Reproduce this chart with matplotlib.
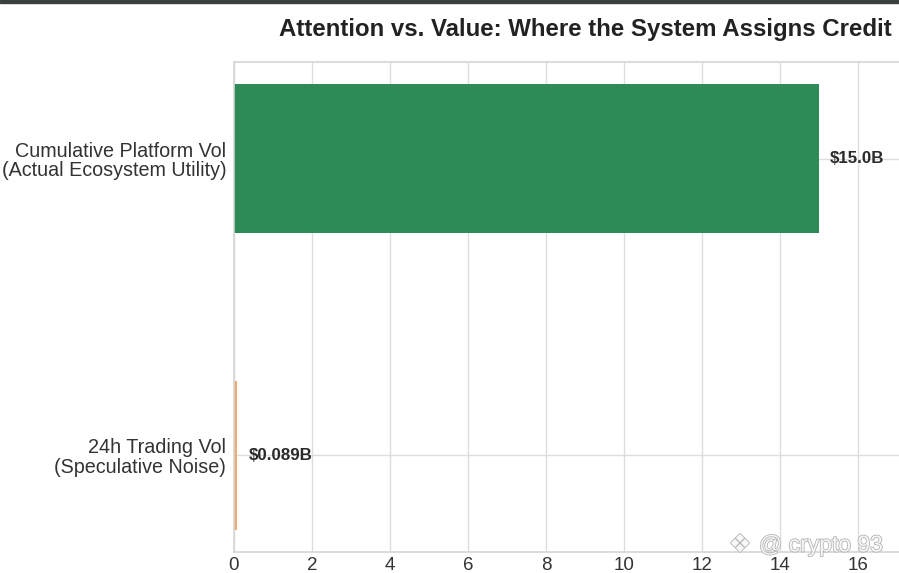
import matplotlib
matplotlib.use("Agg")
import matplotlib.pyplot as plt
import matplotlib.patheffects as pe
from matplotlib.patches import Rectangle

categories = ["24h Trading Vol\n(Speculative Noise)",
              "Cumulative Platform Vol\n(Actual Ecosystem Utility)"]
values = [0.089, 15.0]
value_labels = ["$0.089B", "$15.0B"]
colors = ["#f4a96e", "#2e8b57"]
title = "Attention vs. Value: Where the System Assigns Credit"

plt.rcParams['font.family'] = ['Liberation Sans', 'DejaVu Sans']

fig = plt.figure(figsize=(8.99, 5.73), dpi=100)
ax = fig.add_axes([234/899, 21/573, 702/899, 490/573])

ax.barh(range(len(values)), values, height=0.5, color=colors, zorder=2)
ax.set_yticks(range(len(values)))
ax.set_yticklabels(categories, fontsize=14.2, color="#333333", linespacing=1.02)
ax.set_xlim(0, 18)
ax.set_xticks(range(0, 18, 2))
ax.tick_params(axis='x', labelsize=13.5, colors="#333333", length=0, pad=3.5)
ax.tick_params(axis='y', length=0, pad=5.5)
ax.grid(True, color="#dddddd", linewidth=1, zorder=0)
ax.set_axisbelow(True)
for s in ax.spines.values():
    s.set_color("#d5d5d5")
    s.set_linewidth(1.2)

for i, (v, lab) in enumerate(zip(values, value_labels)):
    ax.text(v + 0.28, i, lab, va='center', ha='left', fontsize=12.2,
            fontweight='bold', color="#2a2a2a", zorder=3)

ax.set_title(title, fontsize=17.3, fontweight='bold', color="#222222", pad=19)

# dark strip at the top edge
fig.patches.append(Rectangle((0, 1 - 3/573), 1, 3/573, transform=fig.transFigure,
                             color="#3a413d", zorder=10))

# watermark
wm = [pe.withStroke(linewidth=1.2, foreground="#b4b4b4")]
fig.text(740/899, 1 - 545/573, "\u2756", fontsize=18, color="#f7f7f7",
         ha='center', va='center', family=['DejaVu Sans'], path_effects=wm, zorder=11)
fig.text(759/899, 1 - 545/573, "@ crypto 93", fontsize=16.5, color="#f7f7f7",
         ha='left', va='center', path_effects=wm, zorder=11)

fig.savefig("out.png", dpi=100)
